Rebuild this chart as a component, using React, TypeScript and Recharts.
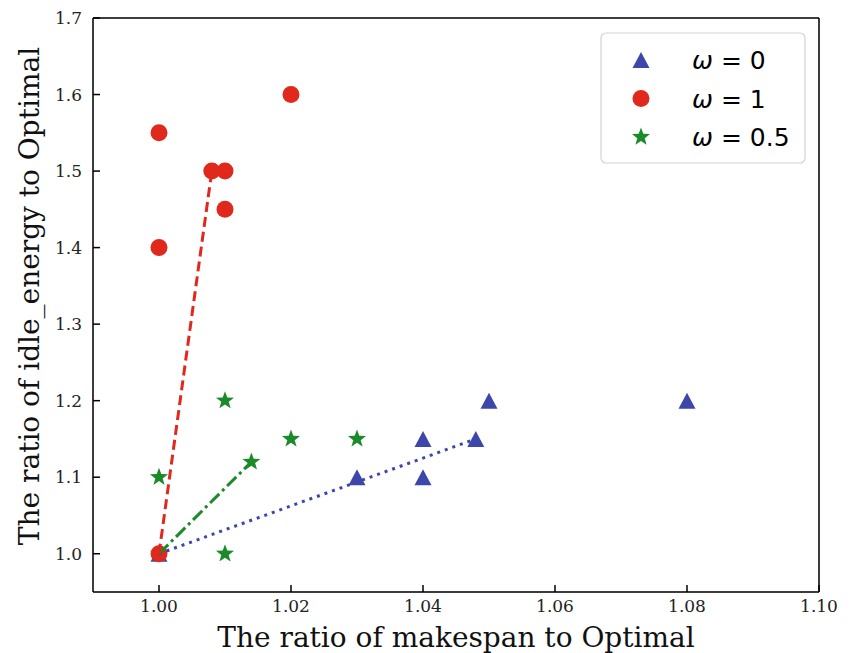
import { CartesianGrid, Legend, Scatter, ScatterChart, XAxis, YAxis } from 'recharts';

const xTicks = [1.0, 1.02, 1.04, 1.06, 1.08, 1.1];
const yTicks = [1.0, 1.1, 1.2, 1.3, 1.4, 1.5, 1.6, 1.7];

// omega = 0
const w0X = [1.0, 1.03, 1.04, 1.04, 1.048, 1.05, 1.08];
const w0Y = [1.0, 1.1, 1.15, 1.1, 1.15, 1.2, 1.2];
// omega = 1
const w1X = [1.0, 1.0, 1.0, 1.008, 1.01, 1.01, 1.02];
const w1Y = [1.0, 1.4, 1.55, 1.5, 1.5, 1.45, 1.6];
// omega = 0.5
const w05X = [1.0, 1.0, 1.01, 1.01, 1.014, 1.02, 1.03];
const w05Y = [1.0, 1.1, 1.0, 1.2, 1.12, 1.15, 1.15];

// trend lines (start -> end)
const fit0X = [1.0, 1.048];
const fit0Y = [1.0, 1.15];
const fit1X = [1.0, 1.008];
const fit1Y = [1.0, 1.5];
const fit05X = [1.0, 1.014];
const fit05Y = [1.0, 1.12];

const BLUE = '#3d47aa';
const RED = '#e0281d';
const GREEN = '#1b8a29';

const zip = (xs: number[], ys: number[]) => xs.map((x, i) => ({ x, y: ys[i] }));

const serif = '"DejaVu Serif", serif';
const sans = '"DejaVu Sans", sans-serif';

function Triangle({ cx, cy, fill }: any) {
  return <polygon points={`${cx},${cy - 8} ${cx - 8.5},${cy + 8} ${cx + 8.5},${cy + 8}`} fill={fill} />;
}

function Dot({ cx, cy, fill }: any) {
  return <circle cx={cx} cy={cy} r={8.5} fill={fill} />;
}

function Star({ cx, cy, fill }: any) {
  const pts: string[] = [];
  for (let i = 0; i < 10; i++) {
    const r = i % 2 === 0 ? 9.5 : 3.9;
    const a = -Math.PI / 2 + (i * Math.PI) / 5;
    pts.push(`${cx + r * Math.cos(a)},${cy + r * Math.sin(a)}`);
  }
  return <polygon points={pts.join(' ')} fill={fill} />;
}

const none = () => <g />;

const legendItems = [
  { label: '0', color: BLUE, Shape: Triangle },
  { label: '1', color: RED, Shape: Dot },
  { label: '0.5', color: GREEN, Shape: Star },
];

function LegendBox() {
  return (
    <svg width={206} height={132}>
      <rect x={1} y={1} width={204} height={130} rx={5} fill="#fff" stroke="#d3d3d3" strokeWidth={1.2} />
      {legendItems.map((it, i) => {
        const cy = 28 + i * 38.5;
        return (
          <g key={it.label}>
            <it.Shape cx={41} cy={cy} fill={it.color} />
            <text x={92} y={cy + 9} fontFamily={sans} fontSize={25} fill="#000">
              <tspan fontStyle="italic">ω</tspan> = {it.label}
            </text>
          </g>
        );
      })}
    </svg>
  );
}

const axisStroke = { stroke: '#000', strokeWidth: 1.5 };
const tickFont = { fontFamily: serif, fontSize: 17, fill: '#222' };

export default function App() {
  return (
    <div style={{ position: 'absolute', left: 0, top: 0, width: 851, height: 653, background: '#fff' }}>
      <ScatterChart width={851} height={653} margin={{ top: 16, right: 30, bottom: 0, left: 33 }}>
        <CartesianGrid stroke="#e4e4e4" strokeWidth={1} />
        <XAxis
          xAxisId="b"
          type="number"
          dataKey="x"
          domain={[0.99, 1.1]}
          ticks={xTicks}
          allowDataOverflow
          height={61}
          tickSize={-7}
          tickMargin={15}
          axisLine={axisStroke}
          tickLine={axisStroke}
          tick={tickFont}
          tickFormatter={(v: number) => v.toFixed(2)}
          label={{
            content: ({ viewBox }: any) => (
              <text
                x={viewBox.x + viewBox.width / 2}
                y={647}
                textAnchor="middle"
                fontFamily={serif}
                fontSize={28}
                fill="#111"
              >
                The ratio of makespan to Optimal
              </text>
            ),
          }}
        />
        <XAxis
          xAxisId="t"
          orientation="top"
          type="number"
          dataKey="x"
          domain={[0.99, 1.1]}
          ticks={xTicks}
          allowDataOverflow
          height={2}
          tickSize={-7}
          axisLine={axisStroke}
          tickLine={axisStroke}
          tick={false}
        />
        <YAxis
          yAxisId="l"
          type="number"
          dataKey="y"
          domain={[0.95, 1.7]}
          ticks={yTicks}
          allowDataOverflow
          width={60}
          tickSize={-7}
          tickMargin={18}
          axisLine={axisStroke}
          tickLine={axisStroke}
          tick={tickFont}
          tickFormatter={(v: number) => v.toFixed(1)}
          label={{
            content: ({ viewBox }: any) => {
              const cy = viewBox.y + viewBox.height / 2 - 9;
              return (
                <text
                  x={39}
                  y={cy}
                  transform={`rotate(-90, 39, ${cy})`}
                  textAnchor="middle"
                  fontFamily={serif}
                  fontSize={28}
                  fill="#111"
                >
                  The ratio of idle_energy to Optimal
                </text>
              );
            },
          }}
        />
        <YAxis
          yAxisId="r"
          orientation="right"
          type="number"
          dataKey="y"
          domain={[0.95, 1.7]}
          ticks={yTicks}
          allowDataOverflow
          width={2}
          tickSize={-7}
          axisLine={axisStroke}
          tickLine={axisStroke}
          tick={false}
        />
        <Legend
          layout="vertical"
          verticalAlign="middle"
          align="center"
          content={() => <LegendBox />}
          wrapperStyle={{ position: 'absolute', left: 600, top: 32, width: 206, height: 132 }}
        />
        <Scatter xAxisId="b" yAxisId="l" name="w0" data={zip(w0X, w0Y)} fill={BLUE} shape={Triangle} isAnimationActive={false} />
        <Scatter xAxisId="b" yAxisId="l" name="w05" data={zip(w05X, w05Y)} fill={GREEN} shape={Star} isAnimationActive={false} />
        <Scatter xAxisId="b" yAxisId="l" name="w1" data={zip(w1X, w1Y)} fill={RED} shape={Dot} isAnimationActive={false} />
        <Scatter
          xAxisId="b"
          yAxisId="l"
          data={zip(fit0X, fit0Y)}
          line={{ stroke: BLUE, strokeWidth: 3, strokeDasharray: '3 5' }}
          shape={none}
          isAnimationActive={false}
        />
        <Scatter
          xAxisId="b"
          yAxisId="l"
          data={zip(fit05X, fit05Y)}
          line={{ stroke: GREEN, strokeWidth: 3, strokeDasharray: '13 4 3 4' }}
          shape={none}
          isAnimationActive={false}
        />
        <Scatter
          xAxisId="b"
          yAxisId="l"
          data={zip(fit1X, fit1Y)}
          line={{ stroke: RED, strokeWidth: 3, strokeDasharray: '10 5' }}
          shape={none}
          isAnimationActive={false}
        />
      </ScatterChart>
    </div>
  );
}
